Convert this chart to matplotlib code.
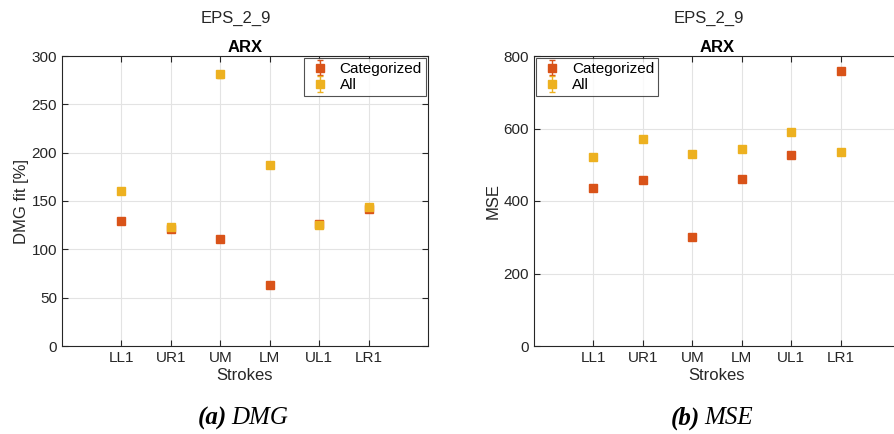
import matplotlib.pyplot as plt
import numpy as np

plt.rcParams['font.family'] = ['Liberation Sans', 'DejaVu Sans']

strokes = ['LL1', 'UR1', 'UM', 'LM', 'UL1', 'LR1']

dmg_cat = [129, 121, 110.5, 63, 126, 142]
dmg_cat_err = [1.5, 1.0, 1.5, 1.5, 1.5, 1.0]
dmg_all = [160.5, 123, 281, 187, 125.5, 144]
dmg_all_err = [1.5, 1.5, 3.5, 2.5, 1.5, 1.5]

mse_cat = [437, 459, 302, 461, 528, 759]
mse_cat_err = [3, 3, 3, 3, 3, 3]
mse_all = [521, 570, 531, 543, 590, 536]
mse_all_err = [3, 3, 3, 3, 3, 3]

c_cat = '#D95319'
c_all = '#EDB120'
ink = '#262626'

fig = plt.figure(figsize=(8.94, 4.34), dpi=100)
W, H = 894, 434

def box(x0, y0, x1, y1):
    return [x0 / W, 1 - y1 / H, (x1 - x0) / W, (y1 - y0) / H]

ax1 = fig.add_axes(box(62, 56, 428, 346))
ax2 = fig.add_axes(box(534, 56, 900, 346))

panels = [
    (ax1, dmg_cat, dmg_cat_err, dmg_all, dmg_all_err, 'DMG fit [%]', 300, 50, 'upper right'),
    (ax2, mse_cat, mse_cat_err, mse_all, mse_all_err, 'MSE', 800, 200, 'upper left'),
]

x = np.arange(1, len(strokes) + 1)
for ax, cat, cerr, al, aerr, ylab, ymax, ystep, loc in panels:
    ax.errorbar(x, cat, yerr=cerr, fmt='s', color=c_cat, ms=5.5, capsize=2,
                elinewidth=1, label='Categorized', zorder=3)
    ax.errorbar(x, al, yerr=aerr, fmt='s', color=c_all, ms=5.5, capsize=2,
                elinewidth=1, label='All', zorder=4)
    ax.set_xlim(-0.2, 7.2)
    ax.set_ylim(0, ymax)
    ax.set_xticks(x)
    ax.set_xticklabels(strokes)
    ax.set_yticks(np.arange(0, ymax + 1, ystep))
    ax.grid(True, color='#e3e3e3', lw=0.8)
    ax.set_axisbelow(True)
    ax.tick_params(direction='in', top=True, right=True, labelsize=11,
                   colors=ink, length=4, width=0.8)
    for s in ax.spines.values():
        s.set_color(ink)
        s.set_linewidth(0.8)
    ax.set_xlabel('Strokes', fontsize=12, color=ink, labelpad=2)
    ax.set_ylabel(ylab, fontsize=12, color=ink, labelpad=2)
    ax.set_title('ARX', fontsize=12, fontweight='bold', color='k', pad=3)
    leg = ax.legend(loc=loc, fontsize=11, frameon=True, fancybox=False,
                    borderaxespad=0.15, handletextpad=0.5, borderpad=0.25,
                    labelspacing=0.15, handlelength=1.6)
    leg.get_frame().set_edgecolor(ink)
    leg.get_frame().set_linewidth(0.8)

fig.text(236 / W, 1 - 18 / H, 'EPS_2_9', ha='center', va='center', fontsize=12, color=ink)
fig.text(709 / W, 1 - 18 / H, 'EPS_2_9', ha='center', va='center', fontsize=12, color=ink)

fig.text(227 / W, 1 - 418 / H, '(a)', ha='right', va='center', fontsize=18,
         family='Liberation Serif', style='italic', fontweight='bold')
fig.text(231 / W, 1 - 418 / H, 'DMG', ha='left', va='center', fontsize=18,
         family='Liberation Serif', style='italic')
fig.text(700 / W, 1 - 418 / H, '(b)', ha='right', va='center', fontsize=18,
         family='Liberation Serif', style='italic', fontweight='bold')
fig.text(704 / W, 1 - 418 / H, 'MSE', ha='left', va='center', fontsize=18,
         family='Liberation Serif', style='italic')

fig.savefig('out.png', dpi=100)
